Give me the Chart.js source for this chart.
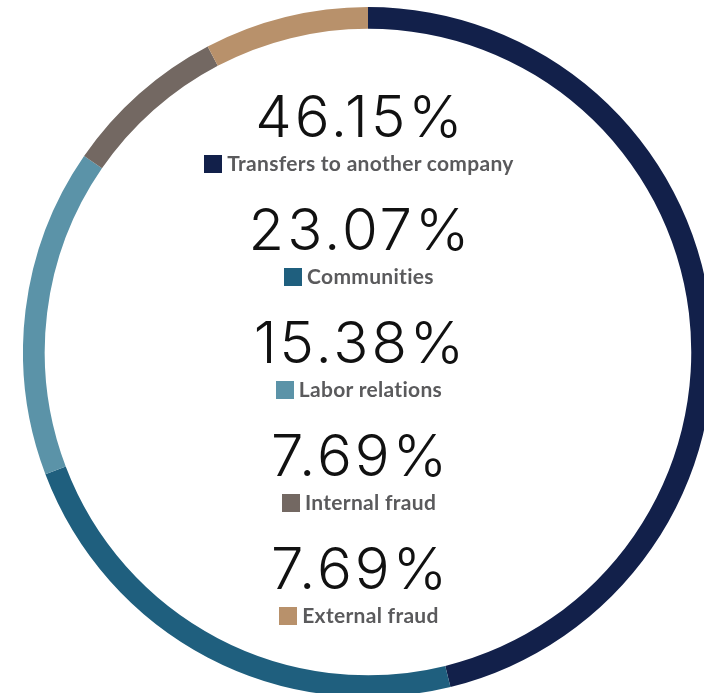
<!DOCTYPE html>
<html>
<head>
<meta charset="utf-8">
<script src="https://cdn.jsdelivr.net/npm/chart.js@4.4.1/dist/chart.umd.min.js"></script>
<style>
  html, body { margin: 0; padding: 0; width: 704px; height: 693px; overflow: hidden; background: #ffffff; }
  #wrap { position: absolute; left: 23px; top: 7px; width: 690px; height: 690px; }
  #labels { position: absolute; left: 0; top: 0; width: 718px; height: 693px; pointer-events: none; }
  .row { position: absolute; left: 0; width: 718px; text-align: center; }
  .pct { font-family: Inter, "Open Sans", sans-serif; font-weight: 300; font-size: 58px; line-height: 58px; color: #111; letter-spacing: 3px; text-indent: 3px; }
  .lab { font-family: Lato, "Open Sans", sans-serif; font-weight: 700; font-size: 21px; line-height: 21px; color: #5a5a5c; white-space: nowrap; letter-spacing: 0.3px; }
  .sq { display: inline-block; width: 18px; height: 18px; margin-right: 5px; vertical-align: -2px; }
</style>
</head>
<body>
<div id="wrap"><canvas id="c"></canvas></div>
<div id="labels"></div>
<script>
const categories = ["Transfers to another company", "Communities", "Labor relations", "Internal fraud", "External fraud"];
const values = [46.15, 23.07, 15.38, 7.69, 7.69];
const valueLabels = ["46.15%", "23.07%", "15.38%", "7.69%", "7.69%"];
const colors = ["#12204a", "#1f5f7e", "#5b93a8", "#736862", "#b8916b"];

new Chart(document.getElementById("c"), {
  type: "doughnut",
  data: {
    labels: categories,
    datasets: [{
      data: values,
      backgroundColor: colors,
      borderWidth: 0,
      hoverOffset: 0
    }]
  },
  options: {
    responsive: true,
    maintainAspectRatio: false,
    animation: false,
    cutout: "93.7%",
    layout: { padding: 0 },
    plugins: { legend: { display: false }, tooltip: { enabled: false } }
  }
});

const box = document.getElementById("labels");
categories.forEach((cat, i) => {
  const p = document.createElement("div");
  p.className = "row pct";
  p.style.top = (116 - 29 + i * 113) + "px";
  p.textContent = valueLabels[i];
  box.appendChild(p);
  const l = document.createElement("div");
  l.className = "row lab";
  l.style.top = (163 - 11 + i * 113) + "px";
  const sq = document.createElement("span");
  sq.className = "sq";
  sq.style.background = colors[i];
  l.appendChild(sq);
  l.appendChild(document.createTextNode(cat));
  box.appendChild(l);
});
</script>
</body>
</html>
